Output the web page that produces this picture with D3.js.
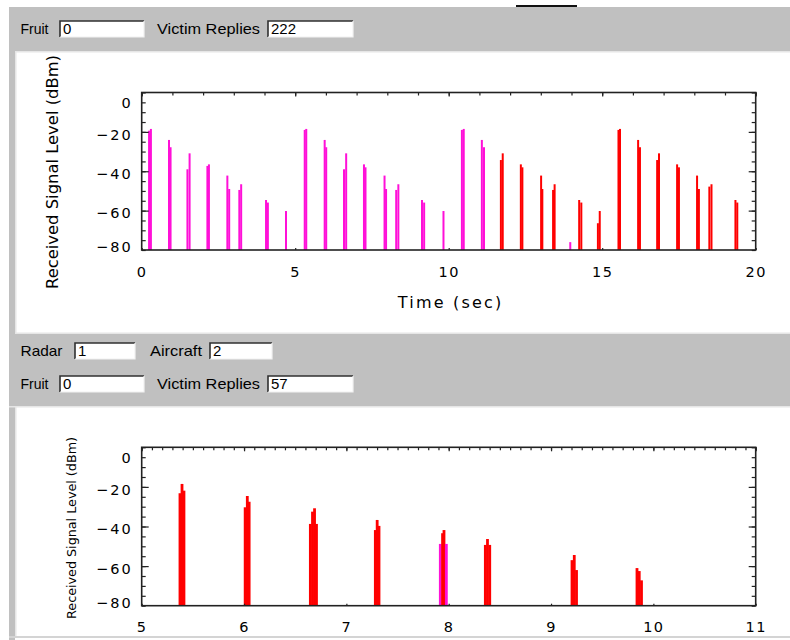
<!DOCTYPE html>
<html>
<head>
<meta charset="utf-8">
<script src="https://cdn.jsdelivr.net/npm/d3@7"></script>
<style>
  body { margin: 0; background: #fff; }
  svg { display: block; }
  .ui { font-family: "Liberation Sans", Arial, sans-serif; font-size: 15px; fill: #000; }
  .idl { font-family: "DejaVu Sans", sans-serif; fill: #000; }
</style>
</head>
<body>
<script>
// ---- data ----
var topFields = [["Fruit", "0"], ["Victim Replies", "222"]];
var midFields = [["Radar", "1"], ["Aircraft", "2"]];
var botFields = [["Fruit", "0"], ["Victim Replies", "57"]];

var yTicks = [0, -20, -40, -60, -80];
var topXTicks = [0, 5, 10, 15, 20];
var botXTicks = [5, 6, 7, 8, 9, 10, 11];

// top chart: one line per reply (time in s, level in dBm, colour m=magenta r=red)
var topTimes = [0.24, 0.30, 0.89, 0.94, 1.49, 1.56, 2.14, 2.19, 2.79, 2.85, 3.18, 3.24,
  4.05, 4.11, 4.70, 5.31, 5.36, 5.96, 6.01, 6.59, 6.66, 7.24, 7.29, 7.91, 7.96, 8.29, 8.36,
  9.13, 9.20, 9.83, 10.43, 10.49, 11.08, 11.15, 11.70, 11.76, 12.35, 12.40, 13.01, 13.05,
  13.40, 13.45, 13.96, 14.25, 14.32, 14.86, 14.92, 15.53, 15.58, 16.17, 16.23, 16.79, 16.85,
  17.44, 17.50, 18.09, 18.15, 18.49, 18.56, 19.34, 19.40];
var topLevels = [-19.4, -18.5, -24.1, -27.8, -39, -30.9, -37.3, -36.5, -42.2, -49, -49.5, -46.6,
  -54.6, -55.9, -60.2, -19, -18.5, -24.1, -27.8, -39, -30.9, -36.5, -38, -42.2, -49, -49.5, -46.6,
  -54.6, -55.9, -60.2, -19, -18.5, -24.1, -27.8, -34.3, -30.9, -36.5, -38, -42.2, -49,
  -49.5, -46.6, -76, -54.6, -55.9, -66.4, -60.2, -19, -18.5, -24.1, -27.8, -34.3, -30.9,
  -36.5, -38, -42.2, -49, -47.8, -46.6, -54.6, -55.9];
var topColors = ["m","m","m","m","m","m","m","m","m","m","m","m",
  "m","m","m","m","m","m","m","m","m","m","m","m","m","m","m",
  "m","m","m","m","m","m","m","r","r","r","r","r","r",
  "r","r","m","r","r","r","r","r","r","r","r","r","r",
  "r","r","r","r","r","r","r","r"];

// bottom chart: zoomed 5-11 s, the replies of aircraft 2
var botTimes = [5.374, 5.394, 5.413, 6.011, 6.032, 6.050, 6.648, 6.669, 6.689, 6.708,
  7.283, 7.301, 7.319, 7.918, 7.940, 7.954, 7.977, 8.358, 8.379, 8.401,
  9.205, 9.227, 9.249, 9.840, 9.862, 9.884];
var botLevels = [-23.2, -18.5, -21.9, -30.3, -24.6, -27.5, -38.7, -32.5, -30.8, -38.7,
  -41.8, -36.7, -39.7, -48.8, -43.4, -41.8, -48.8, -49.3, -46.3, -49.3,
  -57, -54.4, -62, -61, -62.5, -67.2];
var botColors = ["r","r","r","r","r","r","r","r","r","r",
  "r","r","r","m","r","r","m","r","r","r",
  "r","r","r","r","r","r"];

var colorOf = { m: "#ff10d8", r: "#ff0000" };

var svg = d3.select("body").append("svg")
  .attr("width", 790).attr("height", 640);

// ---- window chrome ----
var gray = "#c0c0c0", light = "#e6e6e6";
svg.append("rect").attr("x", 9).attr("y", 7).attr("width", 781).attr("height", 44).attr("fill", gray);
svg.append("rect").attr("x", 9).attr("y", 51).attr("width", 781).attr("height", 1.5).attr("fill", light);
svg.append("rect").attr("x", 9).attr("y", 51).attr("width", 6).attr("height", 589).attr("fill", gray);
svg.append("rect").attr("x", 15).attr("y", 52).attr("width", 1.5).attr("height", 584).attr("fill", light);
svg.append("rect").attr("x", 9).attr("y", 334).attr("width", 781).attr("height", 72).attr("fill", gray);
svg.append("rect").attr("x", 15).attr("y", 332.5).attr("width", 775).attr("height", 1.5).attr("fill", light);
svg.append("rect").attr("x", 9).attr("y", 406).attr("width", 781).attr("height", 1.5).attr("fill", light);
svg.append("rect").attr("x", 9).attr("y", 636).attr("width", 781).attr("height", 2).attr("fill", "#d4d4d4");
svg.append("rect").attr("x", 516).attr("y", 5).attr("width", 61).attr("height", 2).attr("fill", "#111");

function fieldRow(fields, cy, layout) {
  fields.forEach(function (f, i) {
    var L = layout[i];
    svg.append("text").attr("class", "ui")
      .attr("x", L.lx).attr("y", cy + 5)
      .attr("textLength", L.lw).attr("lengthAdjust", "spacingAndGlyphs")
      .text(f[0]);
    var bx = L.bx, bw = L.bw, by = cy - 8, bh = 16;
    svg.append("rect").attr("x", bx).attr("y", by).attr("width", bw).attr("height", bh).attr("fill", "#fff");
    svg.append("path").attr("d", "M" + bx + "," + (by + bh) + "V" + by + "H" + (bx + bw))
      .attr("fill", "none").attr("stroke", "#303030").attr("stroke-width", 1.6);
    svg.append("path").attr("d", "M" + (bx + bw) + "," + by + "V" + (by + bh) + "H" + bx)
      .attr("fill", "none").attr("stroke", "#f2f2f2").attr("stroke-width", 1.2);
    svg.append("text").attr("class", "ui")
      .attr("x", bx + 3).attr("y", cy + 5).text(f[1]);
  });
}
var rowLayout = [{ lx: 20.5, lw: 28, bx: 60, bw: 84 }, { lx: 157, lw: 103, bx: 268, bw: 85 }];
var midLayout = [{ lx: 20.5, lw: 42, bx: 75, bw: 60 }, { lx: 150, lw: 52, bx: 210, bw: 62 }];
fieldRow(topFields, 29, rowLayout);
fieldRow(midFields, 351, midLayout);
fieldRow(botFields, 384, rowLayout);

// ---- plot helper ----
function plot(o) {
  var x = d3.scaleLinear().domain(o.xDomain).range([o.left, o.right]);
  var y = d3.scaleLinear().domain([-80, 0]).range([o.bottom, o.top]);
  var g = svg.append("g");

  g.selectAll("line.rep").data(o.times).enter().append("line")
    .attr("class", "rep")
    .attr("x1", function (d) { return x(d); })
    .attr("x2", function (d) { return x(d); })
    .attr("y1", y(-80))
    .attr("y2", function (d, i) { return y(o.levels[i]); })
    .attr("stroke", function (d, i) { return colorOf[o.colors[i]]; })
    .attr("stroke-width", o.lineW);

  function ticks(axis, tx, ty) {
    var a = g.append("g").attr("transform", "translate(" + tx + "," + ty + ")").call(axis);
    a.select(".domain").remove();
    a.selectAll("line").attr("stroke", "#222").attr("stroke-width", 1.2);
    a.selectAll("text").remove();
    return a;
  }
  var minorY = d3.range(-80, 1, 5);
  ticks(d3.axisRight(y).tickValues(minorY).tickSize(4), o.left, 0);
  ticks(d3.axisRight(y).tickValues([-60, -40, -20]).tickSize(7), o.left, 0);
  ticks(d3.axisLeft(y).tickValues(minorY).tickSize(4), o.right, 0);
  ticks(d3.axisLeft(y).tickValues([-60, -40, -20]).tickSize(7), o.right, 0);
  ticks(d3.axisBottom(x).tickValues(o.topMinor).tickSize(3), 0, o.top);
  ticks(d3.axisBottom(x).tickValues(o.xTicks).tickSize(4), 0, o.top);
  ticks(d3.axisTop(x).tickValues(o.xTicks).tickSize(2), 0, o.bottom);

  g.append("rect").attr("x", o.left).attr("y", o.top)
    .attr("width", o.right - o.left).attr("height", o.bottom - o.top)
    .attr("fill", "none").attr("stroke", "#222").attr("stroke-width", 1.6);

  // tick labels
  var yl = g.append("g").attr("transform", "translate(" + o.left + ",0)")
    .call(d3.axisLeft(y).tickValues(yTicks).tickSize(0).tickPadding(9)
      .tickFormat(function (d) { return d === 0 ? "0" : "\u2212" + Math.abs(d); }));
  yl.select(".domain").remove();
  yl.selectAll("text").attr("class", "idl").attr("font-size", 14.5).attr("letter-spacing", 2)
    .attr("font-family", null).attr("fill", "#000")
    .attr("dy", function (d) { return d === 0 ? "1.05em" : d === -80 ? "0.1em" : "0.5em"; });

  var xl = g.append("g").attr("transform", "translate(0," + o.bottom + ")")
    .call(d3.axisBottom(x).tickValues(o.xTicks).tickSize(0).tickPadding(o.xPad)
      .tickFormat(d3.format("d")));
  xl.select(".domain").remove();
  xl.selectAll("text").attr("class", "idl").attr("font-size", 14.5).attr("letter-spacing", 1.5)
    .attr("font-family", null).attr("fill", "#000");

  g.append("text").attr("class", "idl")
    .attr("transform", "translate(" + o.ytx + "," + o.yty + ") rotate(-90)")
    .attr("text-anchor", "middle").attr("dominant-baseline", "central")
    .attr("font-size", o.ytSize).attr("textLength", o.ytLen).attr("lengthAdjust", "spacingAndGlyphs")
    .text("Received Signal Level (dBm)");
  if (o.xTitle) {
    g.append("text").attr("class", "idl")
      .attr("x", (o.left + o.right) / 2 + 2).attr("y", o.bottom + 52)
      .attr("text-anchor", "middle").attr("dominant-baseline", "central")
      .attr("font-size", 16).attr("letter-spacing", 2.2)
      .text(o.xTitle);
  }
}

plot({
  xDomain: [0, 20], left: 141.7, right: 755.7, top: 92.5, bottom: 250,
  times: topTimes, levels: topLevels, colors: topColors, lineW: 2,
  xTicks: topXTicks, topMinor: d3.range(0, 21, 1), xPad: 17,
  ytx: 53, yty: 172, ytSize: 15, ytLen: 234, xTitle: "Time (sec)"
});

plot({
  xDomain: [5, 11], left: 141.7, right: 755.7, top: 447.3, bottom: 605.7,
  times: botTimes, levels: botLevels, colors: botColors, lineW: 2.8,
  xTicks: botXTicks, topMinor: d3.range(50, 111, 1).map(function (d) { return d / 10; }), xPad: 16,
  ytx: 71.5, yty: 528, ytSize: 12, ytLen: 182, xTitle: null
});
</script>
</body>
</html>
